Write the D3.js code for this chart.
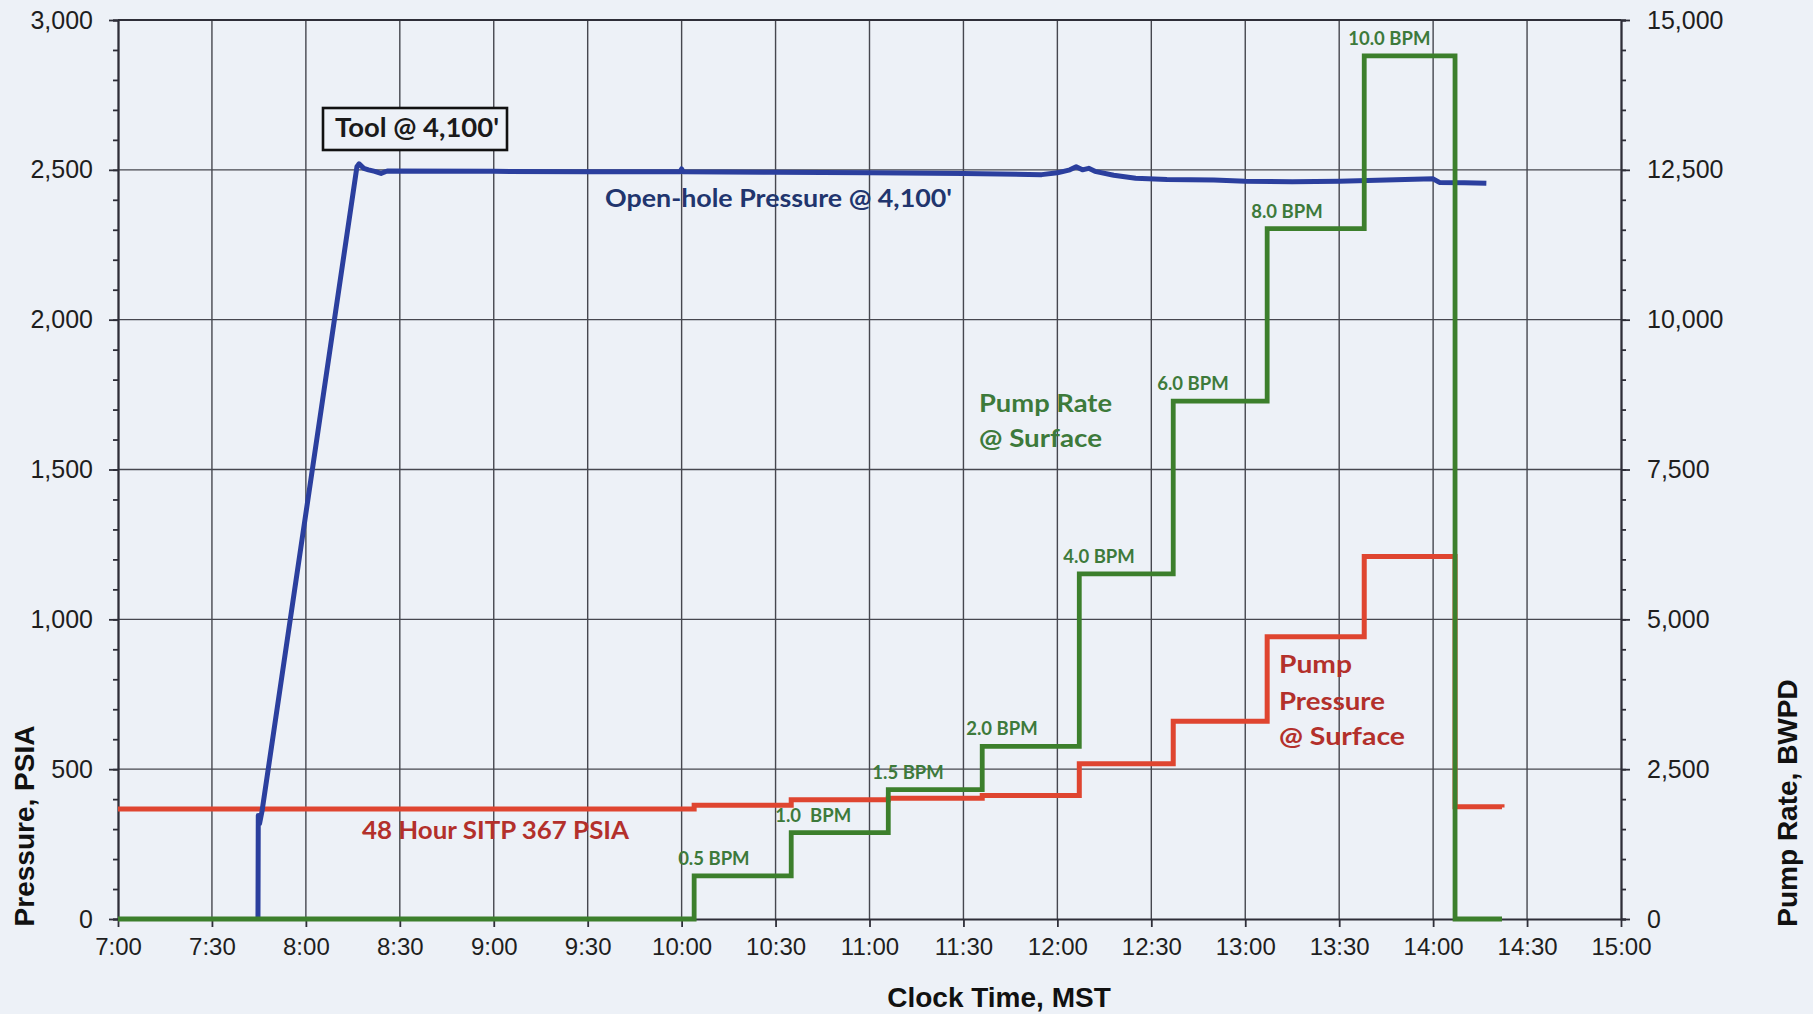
<!DOCTYPE html>
<html>
<head>
<meta charset="utf-8">
<script src="https://cdn.jsdelivr.net/npm/d3@7"></script>
<style>
  html, body { margin: 0; padding: 0; background: #edf1f7; }
  svg { display: block; }
</style>
</head>
<body>
<div id="chart"></div>
<script>
// Open-hole gauge pressure @ 4,100' (psia), clock time "H:MM" (fractional minutes)
const holeTimes = ["7:44.7", "7:44.8", "7:45.2", "7:46", "8:16.3", "8:17", "8:18.5", "8:20", "8:22", "8:24", "8:26",
  "9:00", "9:30", "9:59.5", "10:00", "10:00.5", "10:30", "11:00", "11:30", "11:55", "12:00", "12:04", "12:06",
  "12:08", "12:10", "12:12", "12:18", "12:25", "12:35", "12:50", "13:00", "13:15", "13:30", "13:45", "14:00",
  "14:02", "14:10", "14:17"];
const holePsia = [0, 345, 318, 360, 2510, 2520, 2505, 2500, 2495, 2488, 2496,
  2495, 2494, 2494, 2503, 2494, 2492, 2490, 2488, 2484, 2490, 2500, 2510,
  2500, 2505, 2495, 2482, 2472, 2468, 2466, 2462, 2460, 2462, 2466, 2470,
  2458, 2457, 2455];

// Pump rate at surface, step changes (BWPD)
const rateTimes = ["7:00", "10:04", "10:35", "11:06", "11:36", "12:07", "12:37", "13:07", "13:38", "14:07", "14:22"];
const rateBwpd = [0, 720, 1440, 2160, 2880, 5760, 8640, 11520, 14400, 0, 0];
const rateLabels = ["", "0.5 BPM", "1.0  BPM", "1.5 BPM", "2.0 BPM", "4.0 BPM", "6.0 BPM", "8.0 BPM", "10.0 BPM", "", ""];

// Pump pressure at surface, step changes (psia)
const pumpTimes = ["7:00", "10:04", "10:35", "11:06", "11:36", "12:07", "12:37", "13:07", "13:38", "14:07", "14:22"];
const pumpPsia = [367, 380, 398, 403, 412, 518, 660, 942, 1210, 375, 372];

// axes
const timeTicks = ["7:00", "7:30", "8:00", "8:30", "9:00", "9:30", "10:00", "10:30", "11:00", "11:30",
  "12:00", "12:30", "13:00", "13:30", "14:00", "14:30", "15:00"];
const psiTicks = [0, 500, 1000, 1500, 2000, 2500, 3000];
const bwpdTicks = [0, 2500, 5000, 7500, 10000, 12500, 15000];

const toDate = s => {
  const [h, m] = s.split(":");
  return new Date(2000, 0, 1, +h, 0, 0, Math.round(+m * 60000));
};

const width = 1813, height = 1014;
const plotLeft = 118, plotRight = 1621, plotTop = 20, plotBottom = 919;

const svg = d3.select("#chart").append("svg")
  .attr("width", width)
  .attr("height", height);

svg.append("rect").attr("width", width).attr("height", height).attr("fill", "#edf1f7");

const x = d3.scaleTime().domain([toDate("7:00"), toDate("15:00")]).range([plotLeft, plotRight]);
const yL = d3.scaleLinear().domain([0, 3000]).range([plotBottom, plotTop]);
const yR = d3.scaleLinear().domain([0, 15000]).range([plotBottom, plotTop]);

const gridColor = "#46474f";

// grid lines
svg.append("g").selectAll("line").data(psiTicks.slice(1)).join("line")
  .attr("x1", plotLeft).attr("x2", plotRight)
  .attr("y1", d => yL(d)).attr("y2", d => yL(d))
  .attr("stroke", gridColor).attr("stroke-width", 1.4);
svg.append("g").selectAll("line").data(timeTicks.slice(1, -1)).join("line")
  .attr("x1", d => x(toDate(d))).attr("x2", d => x(toDate(d)))
  .attr("y1", plotTop).attr("y2", plotBottom)
  .attr("stroke", gridColor).attr("stroke-width", 1.4);

// axes
const styleAxis = (g, size) => {
  g.selectAll("path, line").attr("stroke", "#2e2e38").attr("stroke-width", 1.8);
  g.selectAll("text").attr("fill", "#1e1e1e").style("font-family", "'Liberation Sans', Arial, sans-serif")
    .style("font-size", size + "px");
};

svg.append("g").attr("transform", `translate(${plotLeft},0)`)
  .call(d3.axisLeft(yL).tickValues(d3.range(0, 3001, 100)).tickSize(5).tickFormat(""))
  .call(g => styleAxis(g, 25));
svg.append("g").attr("transform", `translate(${plotLeft},0)`)
  .call(d3.axisLeft(yL).tickValues(psiTicks).tickSize(9).tickSizeOuter(0).tickPadding(16).tickFormat(d3.format(",")))
  .call(g => styleAxis(g, 25));

svg.append("g").attr("transform", `translate(${plotRight},0)`)
  .call(d3.axisRight(yR).tickValues(d3.range(0, 15001, 500)).tickSize(5).tickFormat(""))
  .call(g => styleAxis(g, 25));
svg.append("g").attr("transform", `translate(${plotRight},0)`)
  .call(d3.axisRight(yR).tickValues(bwpdTicks).tickSize(9).tickSizeOuter(0).tickPadding(17).tickFormat(d3.format(",")))
  .call(g => styleAxis(g, 25));

svg.append("g").attr("transform", `translate(0,${plotBottom})`)
  .call(d3.axisBottom(x).tickValues(timeTicks.map(toDate)).tickSize(8).tickSizeOuter(0).tickPadding(11)
    .tickFormat(d3.timeFormat("%-H:%M")))
  .call(g => styleAxis(g, 24));

// top frame
svg.append("line").attr("x1", plotLeft).attr("x2", plotRight).attr("y1", plotTop).attr("y2", plotTop)
  .attr("stroke", "#2e2e38").attr("stroke-width", 1.8);

// series
const pumpLine = d3.line().curve(d3.curveStepAfter)
  .x((d, i) => x(toDate(pumpTimes[i]))).y(d => yL(d));
svg.append("path").datum(pumpPsia)
  .attr("d", pumpLine).attr("fill", "none")
  .attr("stroke", "#df4530").attr("stroke-width", 5);

const holeLine = d3.line()
  .x((d, i) => x(toDate(holeTimes[i]))).y(d => yL(d));
svg.append("path").datum(holePsia)
  .attr("d", holeLine).attr("fill", "none")
  .attr("stroke", "#2b3f9e").attr("stroke-width", 5)
  .attr("stroke-linejoin", "round");

const rateLine = d3.line().curve(d3.curveStepAfter)
  .x((d, i) => x(toDate(rateTimes[i]))).y(d => yR(d));
svg.append("path").datum(rateBwpd)
  .attr("d", rateLine).attr("fill", "none")
  .attr("stroke", "#3c7f2c").attr("stroke-width", 4.8);

// step labels for pump rate
const annoFont = "Lato, 'Open Sans', sans-serif";
svg.append("g").selectAll("text")
  .data(rateBwpd.map((v, i) => ({ v, t: rateTimes[i], label: rateLabels[i] })).filter(d => d.label))
  .join("text")
  .attr("x", d => x(toDate(d.t)) - 16)
  .attr("y", d => yR(d.v) - 11)
  .attr("fill", "#3d7a3b")
  .style("font-family", annoFont).style("font-weight", 700).style("font-size", "18.5px")
  .style("white-space", "pre")
  .text(d => d.label);

// annotations
const addText = (str, tx, ty, size, color, len) => {
  const t = svg.append("text").attr("x", tx).attr("y", ty)
    .attr("fill", color)
    .style("font-family", annoFont).style("font-weight", 700).style("font-size", size + "px")
    .text(str);
  if (len) t.attr("textLength", len).attr("lengthAdjust", "spacingAndGlyphs");
  return t;
};

svg.append("rect").attr("x", 323).attr("y", 108).attr("width", 184).attr("height", 42)
  .attr("fill", "#edf1f7").attr("stroke", "#111").attr("stroke-width", 2.6);
addText("Tool @ 4,100'", 335, 137, 26, "#1a1a1a", 164);

addText("Open-hole Pressure @ 4,100'", 605, 207, 25, "#21356e", 347);
addText("48 Hour SITP 367 PSIA", 362, 839, 25, "#b3302b", 267);

addText("Pump Rate", 979, 412, 25, "#3d7a3b", 133);
addText("@ Surface", 979, 447, 25, "#3d7a3b", 123);

addText("Pump", 1279, 673, 25, "#b3302b", 73);
addText("Pressure", 1279, 710, 25, "#b3302b", 106);
addText("@ Surface", 1279, 745, 25, "#b3302b", 126);

// axis titles
const titleFont = "'Liberation Sans', Arial, sans-serif";
svg.append("text")
  .attr("transform", `translate(34,826) rotate(-90)`)
  .attr("text-anchor", "middle").attr("fill", "#111")
  .style("font-family", titleFont).style("font-weight", 700).style("font-size", "28px")
  .text("Pressure, PSIA");

svg.append("text")
  .attr("transform", `translate(1797,803) rotate(-90)`)
  .attr("text-anchor", "middle").attr("fill", "#111")
  .style("font-family", titleFont).style("font-weight", 700).style("font-size", "28px")
  .text("Pump Rate, BWPD");

svg.append("text")
  .attr("x", 999).attr("y", 1007)
  .attr("text-anchor", "middle").attr("fill", "#111")
  .style("font-family", titleFont).style("font-weight", 700).style("font-size", "28px")
  .text("Clock Time, MST");
</script>
</body>
</html>
